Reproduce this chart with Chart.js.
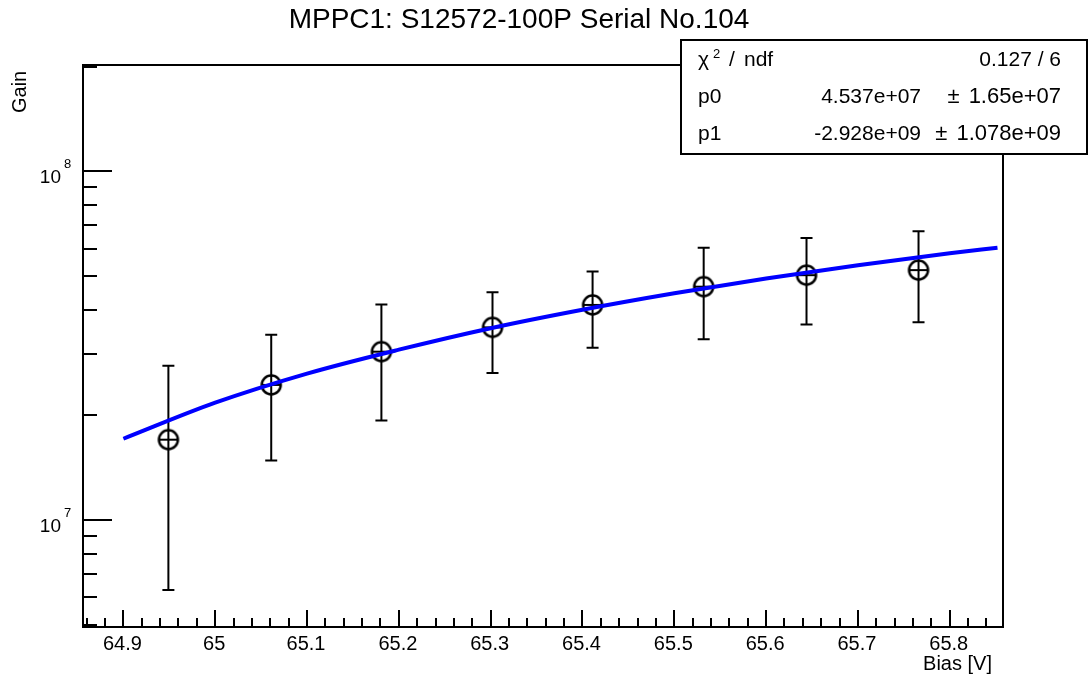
<!DOCTYPE html>
<html><head><meta charset="utf-8">
<script src="https://cdn.jsdelivr.net/npm/chart.js@4/dist/chart.umd.min.js"></script>
<style>html,body{margin:0;padding:0;background:#fff;}#wrap{width:1088px;height:680px;}</style>
</head><body><div id="wrap"><canvas id="c" width="1088" height="680"></canvas></div>
<script>
// ---- data ----
const biasV   = [64.949, 65.061, 65.181, 65.302, 65.411, 65.532, 65.644, 65.766];
const gain    = [1.70e7, 2.44e7, 3.04e7, 3.57e7, 4.14e7, 4.67e7, 5.04e7, 5.21e7];
const gainErr = [1.07e7, 0.96e7, 1.11e7, 0.93e7, 1.02e7, 1.37e7, 1.40e7, 1.52e7];
const fitBias = [64.9, 65.0, 65.1, 65.2, 65.3, 65.4, 65.5, 65.6, 65.7, 65.8, 65.852];
const fitGain = [1.71e7, 2.17e7, 2.63e7, 3.08e7, 3.55e7, 4.01e7, 4.47e7, 4.93e7, 5.38e7, 5.82e7, 6.04e7];
const xTickValues = [64.9, 65.0, 65.1, 65.2, 65.3, 65.4, 65.5, 65.6, 65.7, 65.8];
const xTickLabels = ['64.9', '65', '65.1', '65.2', '65.3', '65.4', '65.5', '65.6', '65.7', '65.8'];
const yTickValues = [1e7, 1e8];
const yTickBase = ['10', '10'];
const yTickExp = ['7', '8'];
const yMinorValues = [5e6, 6e6, 7e6, 8e6, 9e6, 2e7, 3e7, 4e7, 5e7, 6e7, 7e7, 8e7, 9e7, 2e8];
const titleText = 'MPPC1: S12572-100P Serial No.104';
const xTitle = 'Bias [V]';
const yTitle = 'Gain';
const statNames = ['p0', 'p1'];
const statValues = ['4.537e+07', '-2.928e+09'];
const statErrors = ['1.65e+07', '1.078e+09'];
const chiText = '0.127 / 6';

const FONT = "'Liberation Sans', Arial, Helvetica, sans-serif";

// marker: open circle with horizontal bar
const marker = document.createElement('canvas');
marker.width = 26; marker.height = 26;
(function(){
  const m = marker.getContext('2d');
  m.strokeStyle = '#000'; m.lineWidth = 2.5;
  m.beginPath(); m.arc(13, 13, 9.5, 0, Math.PI * 2); m.stroke();
  m.lineWidth = 2;
  m.beginPath(); m.moveTo(3.5, 13); m.lineTo(22.5, 13); m.stroke();
})();

const rootPlugin = {
  id: 'rootStyle',
  beforeDatasetsDraw(chart) {
    const ctx = chart.ctx, xs = chart.scales.x, ys = chart.scales.y;
    ctx.save();
    ctx.strokeStyle = '#000'; ctx.lineWidth = 2;
    for (let i = 0; i < biasV.length; i++) {
      const px = xs.getPixelForValue(biasV[i]);
      const pt = ys.getPixelForValue(gain[i] + gainErr[i]);
      const pb = ys.getPixelForValue(Math.max(gain[i] - gainErr[i], 1));
      ctx.beginPath();
      ctx.moveTo(px, pt); ctx.lineTo(px, pb);
      ctx.moveTo(px - 6, pt); ctx.lineTo(px + 6, pt);
      ctx.moveTo(px - 6, pb); ctx.lineTo(px + 6, pb);
      ctx.stroke();
    }
    ctx.restore();
  },
  afterDraw(chart) {
    const ctx = chart.ctx, xs = chart.scales.x, ys = chart.scales.y, a = chart.chartArea;
    ctx.save();
    ctx.strokeStyle = '#000'; ctx.fillStyle = '#000';
    // frame
    ctx.lineWidth = 2;
    ctx.strokeRect(a.left, a.top, a.right - a.left, a.bottom - a.top);
    // x ticks
    ctx.beginPath();
    for (let k = 0; k <= 50; k++) {
      const v = 64.86 + k * 0.02;
      const px = Math.round(xs.getPixelForValue(v));
      if (px < a.left || px > a.right) continue;
      ctx.moveTo(px, a.bottom); ctx.lineTo(px, a.bottom - 9);
    }
    xTickValues.forEach(v => {
      const px = Math.round(xs.getPixelForValue(v));
      ctx.moveTo(px, a.bottom); ctx.lineTo(px, a.bottom - 17);
    });
    // y ticks
    yMinorValues.forEach(v => {
      const py = Math.round(ys.getPixelForValue(v));
      if (py < a.top || py > a.bottom) return;
      ctx.moveTo(a.left, py); ctx.lineTo(a.left + 14, py);
    });
    yTickValues.forEach(v => {
      const py = Math.round(ys.getPixelForValue(v));
      ctx.moveTo(a.left, py); ctx.lineTo(a.left + 29, py);
    });
    ctx.stroke();
    // x tick labels
    ctx.font = '20px ' + FONT;
    ctx.textAlign = 'center'; ctx.textBaseline = 'alphabetic';
    xTickValues.forEach((v, i) => {
      ctx.fillText(xTickLabels[i], xs.getPixelForValue(v) - 1, 650);
    });
    // y tick labels
    yTickValues.forEach((v, i) => {
      const py = ys.getPixelForValue(v);
      ctx.font = '19px ' + FONT; ctx.textAlign = 'right';
      ctx.fillText(yTickBase[i], 61, py + 12);
      ctx.font = '13px ' + FONT; ctx.textAlign = 'left';
      ctx.fillText(yTickExp[i], 64, py - 3);
    });
    // axis titles
    ctx.font = '20px ' + FONT; ctx.textAlign = 'right';
    ctx.fillText(xTitle, 992, 670);
    ctx.save();
    ctx.translate(26, 113); ctx.rotate(-Math.PI / 2);
    ctx.textAlign = 'left'; ctx.font = '20px ' + FONT;
    ctx.fillText(yTitle, 0, 0);
    ctx.restore();
    // title
    ctx.font = '28px ' + FONT; ctx.textAlign = 'center';
    ctx.fillText(titleText, 519, 28);
    // stats box
    ctx.fillStyle = '#fff';
    ctx.fillRect(681, 40, 406, 114);
    ctx.lineWidth = 2; ctx.strokeStyle = '#000';
    ctx.strokeRect(681, 40, 406, 114);
    ctx.fillStyle = '#000';
    ctx.font = '21px ' + FONT; ctx.textAlign = 'left';
    ctx.fillText('\u03c7', 698, 66);
    ctx.font = '13px ' + FONT;
    ctx.fillText('2', 713, 58);
    ctx.font = '21px ' + FONT;
    ctx.fillText('/', 729, 66);
    ctx.fillText('ndf', 744, 66);
    ctx.textAlign = 'right';
    ctx.fillText(chiText, 1061, 66);
    statNames.forEach((name, i) => {
      const by = 103 + i * 37;
      ctx.font = '21px ' + FONT;
      ctx.textAlign = 'left';
      ctx.fillText(name, 698, by);
      ctx.textAlign = 'right';
      ctx.fillText(statValues[i], 921, by);
      ctx.font = '22px ' + FONT;
      ctx.fillText(statErrors[i], 1061, by);
      const w = ctx.measureText(statErrors[i]).width;
      ctx.fillText('\u00b1', 1061 - w - 9, by);
    });
    ctx.restore();
  }
};

new Chart(document.getElementById('c'), {
  type: 'scatter',
  data: {
    datasets: [
      {
        type: 'line',
        label: 'fit',
        data: fitBias.map((x, i) => ({ x: x, y: fitGain[i] })),
        borderColor: '#0000ff',
        borderWidth: 4,
        pointRadius: 0,
        cubicInterpolationMode: 'monotone',
        fill: false,
        order: 0
      },
      {
        label: 'data',
        data: biasV.map((x, i) => ({ x: x, y: gain[i] })),
        pointStyle: marker,
        pointRadius: 10,
        order: 1
      }
    ]
  },
  options: {
    responsive: false,
    animation: false,
    devicePixelRatio: 1,
    layout: { padding: { left: 83, right: 85, top: 65, bottom: 53 } },
    plugins: { legend: { display: false }, tooltip: { enabled: false }, title: { display: false } },
    scales: {
      x: { type: 'linear', min: 64.856, max: 65.858, display: false },
      y: { type: 'logarithmic', min: 4.93e6, max: 2.02e8, display: false }
    }
  },
  plugins: [rootPlugin]
});
</script>
</body></html>
